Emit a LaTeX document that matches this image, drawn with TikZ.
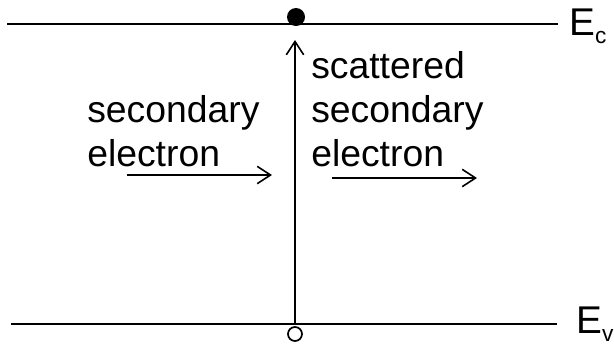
\documentclass[tikz,border=0pt]{standalone}
\usepackage{fontspec}
\setmainfont{Liberation Sans}
\usetikzlibrary{arrows.meta}
\newcommand{\bandsub}[1]{\raisebox{-6pt}{\fontsize{17}{20}\selectfont #1}}
\begin{document}
\begin{tikzpicture}[x=0.75pt,y=-0.75pt,
  level/.style={line width=1.5pt},
  flow/.style={line width=1.2pt,-{Straight Barb[length=10pt,width=13pt,line width=1.2pt]}},
  label/.style={anchor=base west,inner sep=0pt,font=\fontsize{28}{32}\selectfont},
  energy/.style={anchor=base west,inner sep=0pt,font=\fontsize{29}{32}\selectfont}]
\useasboundingbox (0,0) rectangle (614,344);
% band edges
\coordinate (cL) at (7,24);
\coordinate (cR) at (558,24);
\coordinate (vL) at (11,324);
\coordinate (vR) at (557,324);
\draw[level] (cL) -- (cR);
\draw[level] (vL) -- (vR);
\node[energy] (Ec) at (569,35) {E\bandsub{c}};
\node[energy] (Ev) at (576,333) {E\bandsub{v}};
% electron and hole
\node[circle,fill=black,minimum size=13.5pt,inner sep=0pt] (el) at (296,17) {};
\node[circle,draw=black,line width=1.3pt,minimum size=10.5pt,inner sep=0pt] (hole) at (295,334) {};
% excitation
\coordinate (exB) at (295,324);
\coordinate (exT) at (295,40);
\draw[flow] (exB) -- (exT);
% labels
\node[label] (s1) at (87,122) {secondary};
\node[label] (s2) at (87,166) {electron};
\node[label] (t1) at (311,78) {scattered};
\node[label] (t2) at (311,122) {secondary};
\node[label] (t3) at (311,166) {electron};
% motion arrows
\coordinate (aL1) at (127,175);
\coordinate (aL2) at (272,175);
\coordinate (aR1) at (332,178);
\coordinate (aR2) at (477,178);
\draw[flow] (aL1) -- (aL2);
\draw[flow] (aR1) -- (aR2);
\end{tikzpicture}
\end{document}
